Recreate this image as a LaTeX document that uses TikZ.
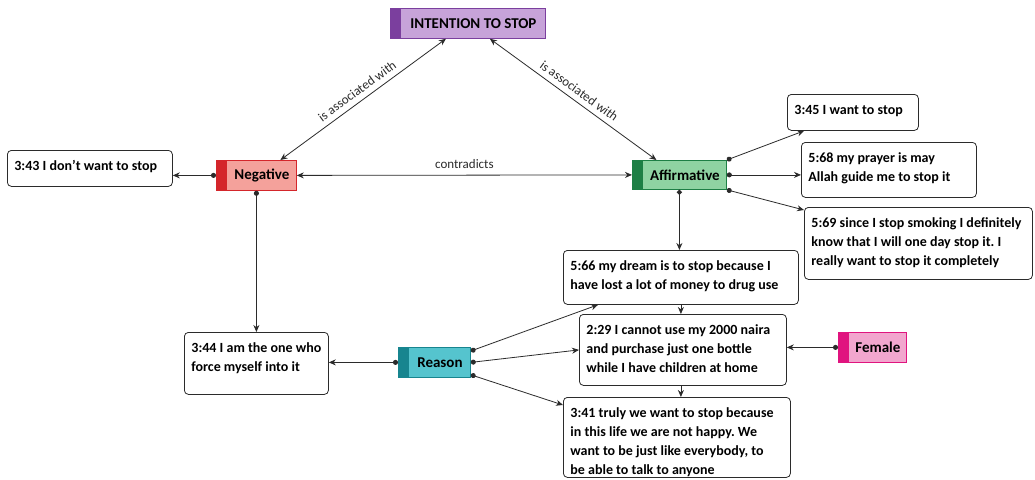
\documentclass[tikz,border=0pt]{standalone}
\usepackage{fontspec}
\setmainfont{Carlito}
\usetikzlibrary{arrows.meta}
\frenchspacing
\definecolor{intfill}{HTML}{C7A3D9}
\definecolor{intdark}{HTML}{7B3F9E}
\definecolor{negfill}{HTML}{F4A19B}
\definecolor{negdark}{HTML}{D4262B}
\definecolor{afffill}{HTML}{8FD3A2}
\definecolor{affdark}{HTML}{1E7F45}
\definecolor{reafill}{HTML}{55C4CE}
\definecolor{readark}{HTML}{17858F}
\definecolor{femfill}{HTML}{F2A6CE}
\definecolor{femdark}{HTML}{E0147F}
\definecolor{ink}{HTML}{2B2B2B}
\newcommand{\qbox}[3]{\parbox[c][#2][t]{#1}{\raggedright\strut #3}}
\begin{document}
\begin{tikzpicture}[x=1pt,y=-1pt,
  tbox/.style={draw=ink, line width=0.8pt, rounded corners=4pt, fill=white,
    anchor=north west, inner xsep=7pt, inner ysep=7pt, font=\fontsize{14}{19}\selectfont\bfseries},
  catstrip/.style={path picture={\fill[#1] (path picture bounding box.north west) rectangle ([xshift=11pt]path picture bounding box.south west);}},
  cat/.style={line width=0.8pt, anchor=north west, inner sep=0pt, font=\fontsize{15}{16}\selectfont\bfseries},
  conn/.style={draw=ink, line width=0.8pt, {Circle[length=5pt]}-{Stealth[length=7pt,width=6pt]}},
  arr/.style={draw=ink, line width=0.8pt, -{Stealth[length=7pt,width=6pt]}},
  dbl/.style={draw=ink, line width=0.8pt, {Stealth[length=7pt,width=6pt]}-{Stealth[length=7pt,width=6pt]}},
  lbl/.style={font=\fontsize{13}{14}\selectfont, text=ink}
]
\path[use as bounding box, fill=white] (0,0) rectangle (1035,479);

% category nodes
\node[cat, draw=intdark, fill=intfill, catstrip=intdark, minimum width=155pt, minimum height=30pt] (int) at (390,8) {\hspace*{11pt}INTENTION TO STOP};
\node[cat, draw=negdark, fill=negfill, catstrip=negdark, minimum width=80pt, minimum height=30pt] (neg) at (216,160) {\hspace*{11pt}Negative};
\node[cat, draw=affdark, fill=afffill, catstrip=affdark, minimum width=94pt, minimum height=29pt] (aff) at (632,160) {\hspace*{11pt}Affirmative};
\node[cat, draw=readark, fill=reafill, catstrip=readark, minimum width=72pt, minimum height=30pt] (rea) at (398,347) {\hspace*{11pt}Reason};
\node[cat, draw=femdark, fill=femfill, catstrip=femdark, minimum width=68pt, minimum height=30pt] (fem) at (838,332) {\hspace*{11pt}Female};

% quotation boxes
\node[tbox] (n343) at (7,150) {\qbox{151pt}{22pt}{3:43 I don’t want to stop}};
\node[tbox] (n344) at (184,332) {\qbox{130pt}{48pt}{3:44 I am the one who\\force myself into it}};
\node[tbox] (n345) at (787,94) {\qbox{117pt}{22pt}{3:45 I want to stop}};
\node[tbox] (n568) at (801,142) {\qbox{161pt}{41pt}{5:68 my prayer is may\\Allah guide me to stop it}};
\node[tbox] (n569) at (804,207) {\qbox{214pt}{58pt}{5:69 since I stop smoking I definitely\\know that I will one day stop it. I\\really want to stop it completely}};
\node[tbox] (n566) at (563,250) {\qbox{221pt}{40pt}{5:66 my dream is to stop because I\\have lost a lot of money to drug use}};
\node[tbox] (n229) at (579,314) {\qbox{193pt}{57pt}{2:29 I cannot use my 2000 naira\\and purchase just one bottle\\while I have children at home}};
\node[tbox] (n341) at (563,397) {\qbox{213pt}{66pt}{3:41 truly we want to stop because\\in this life we are not happy. We\\want to be just like everybody, to\\be able to talk to anyone}};

% relations
\draw[dbl] ([xshift=24pt]neg.north) -- node[lbl, sloped, above=2pt] {is associated with} ([xshift=-22pt]int.south);
\draw[dbl] ([xshift=22pt]int.south) -- node[lbl, sloped, above=2pt] {is associated with} ([xshift=-23pt]aff.north);
\draw[dbl] (neg.east) -- node[lbl, above=3pt] {contradicts} (aff.west);

\draw[conn] (neg.west) -- (neg.west -| n343.east);
\draw[conn] (neg.south) -- (neg.south |- n344.north);

\draw[conn] (aff.north east) -- (n345);
\draw[conn] (aff.east) -- (aff.east -| n568.west);
\draw[conn] (aff.south east) -- ([yshift=-3pt]n569.north west);
\draw[conn, line width=1.2pt] (aff.south) -- (aff.south |- n566.north);

\draw[arr] (n566.south) -- (n566.south |- n229.north);
\draw[arr] ([xshift=-2pt]n229.south) -- ([xshift=-2pt]n229.south |- n341.north);

\draw[conn] (rea.west) -- (rea.west -| n344.east);
\draw[conn] ([yshift=-4pt]rea.north east) -- ([xshift=35pt]n566.south west);
\draw[conn] (rea.east) -- (n229.west);
\draw[conn] ([yshift=3pt]rea.south east) -- ([yshift=-8pt]n341.north west);

\draw[conn] (fem.west) -- (fem.west -| n229.east);
\end{tikzpicture}
\end{document}
